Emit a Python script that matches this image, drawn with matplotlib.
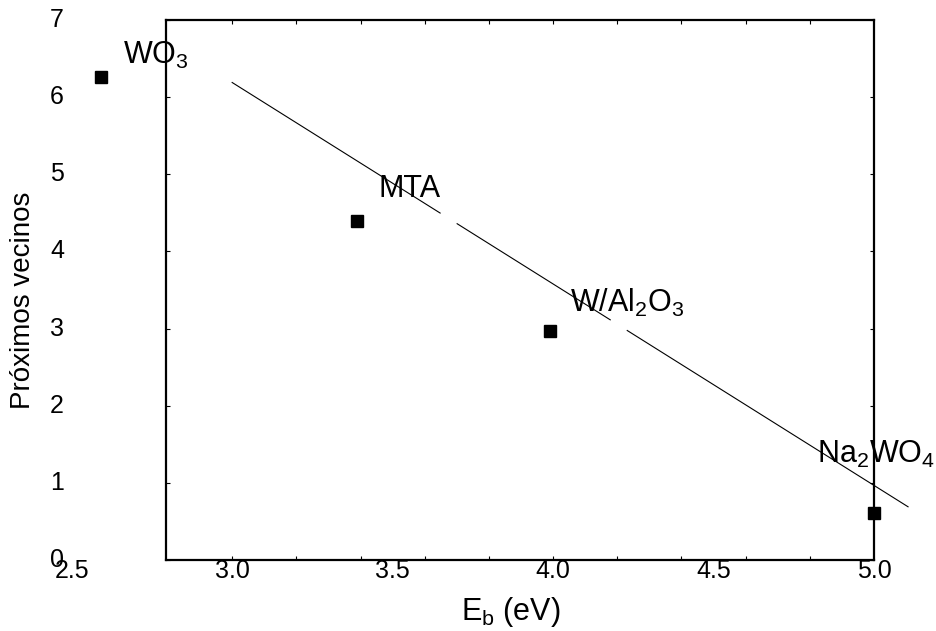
import numpy as np
import matplotlib
matplotlib.use('Agg')
import matplotlib.pyplot as plt

plt.rcParams['font.family'] = ['Liberation Sans', 'DejaVu Sans']
plt.rcParams['mathtext.fontset'] = 'custom'
plt.rcParams['mathtext.rm'] = 'Liberation Sans'
plt.rcParams['mathtext.it'] = 'Liberation Sans'

# data points
eb = [2.59, 3.39, 3.99, 5.0]
vecinos = [6.26, 4.39, 2.97, 0.61]
names = ['WO$_3$', 'MTA', 'W/Al$_2$O$_3$', 'Na$_2$WO$_4$']
label_x = [2.66, 3.455, 4.053, 4.822]
label_y = [6.43, 4.70, 3.21, 1.26]

# fitted line ends and the gaps in it
fit_x = [3.0, 5.106]
fit_y = [6.19, 0.69]
gaps = [(3.648, 3.701), (4.178, 4.231)]

xtick_vals = [2.5, 3.0, 3.5, 4.0, 4.5, 5.0]
ytick_vals = [0, 1, 2, 3, 4, 5, 6, 7]

fig = plt.figure(figsize=(9.36, 6.31), dpi=100)
ax = fig.add_axes([0.1774, 0.1125, 0.7564, 0.8558])
ax.set_xlim(2.794, 5.0)
ax.set_ylim(0, 7)

# fit line split at the gaps
slope = (fit_y[1] - fit_y[0]) / (fit_x[1] - fit_x[0])
line = lambda x: fit_y[0] + slope * (x - fit_x[0])
starts = [fit_x[0]] + [g[1] for g in gaps]
ends = [g[0] for g in gaps] + [fit_x[1]]
for a, b in zip(starts, ends):
    ax.plot([a, b], [line(a), line(b)], color='black', linewidth=0.8, clip_on=False)

ax.plot(eb, vecinos, 's', color='black', markersize=8.5, clip_on=False, zorder=5)

for n, lx, ly in zip(names, label_x, label_y):
    ax.text(lx, ly, n, fontsize=22, ha='left', va='baseline', clip_on=False)

for s in ax.spines.values():
    s.set_linewidth(1.6)

ax.set_xticks(np.arange(3.0, 4.9, 0.2))
ax.set_yticks(ytick_vals)
ax.tick_params(direction='in', length=3, width=0.8, top=True, right=True,
               labelbottom=False, labelleft=False)

# tick labels placed by hand (the original puts them off the frame)
for v in xtick_vals:
    ax.text(v, -0.021, '%.1f' % v, fontsize=18, ha='center', va='center',
            transform=ax.get_xaxis_transform(), clip_on=False)
for v in ytick_vals:
    ax.text(-0.154, v, str(v), fontsize=18, ha='center', va='center',
            transform=ax.get_yaxis_transform(), clip_on=False)

fig.text(511 / 936, 1 - 620 / 631, 'E$_\\mathrm{b}$ (eV)', fontsize=22,
         ha='center', va='baseline')
fig.text(23 / 936, 1 - 300 / 631, 'Próximos vecinos', fontsize=20,
         ha='center', va='center', rotation=90)

fig.savefig('out.png', dpi=100)
